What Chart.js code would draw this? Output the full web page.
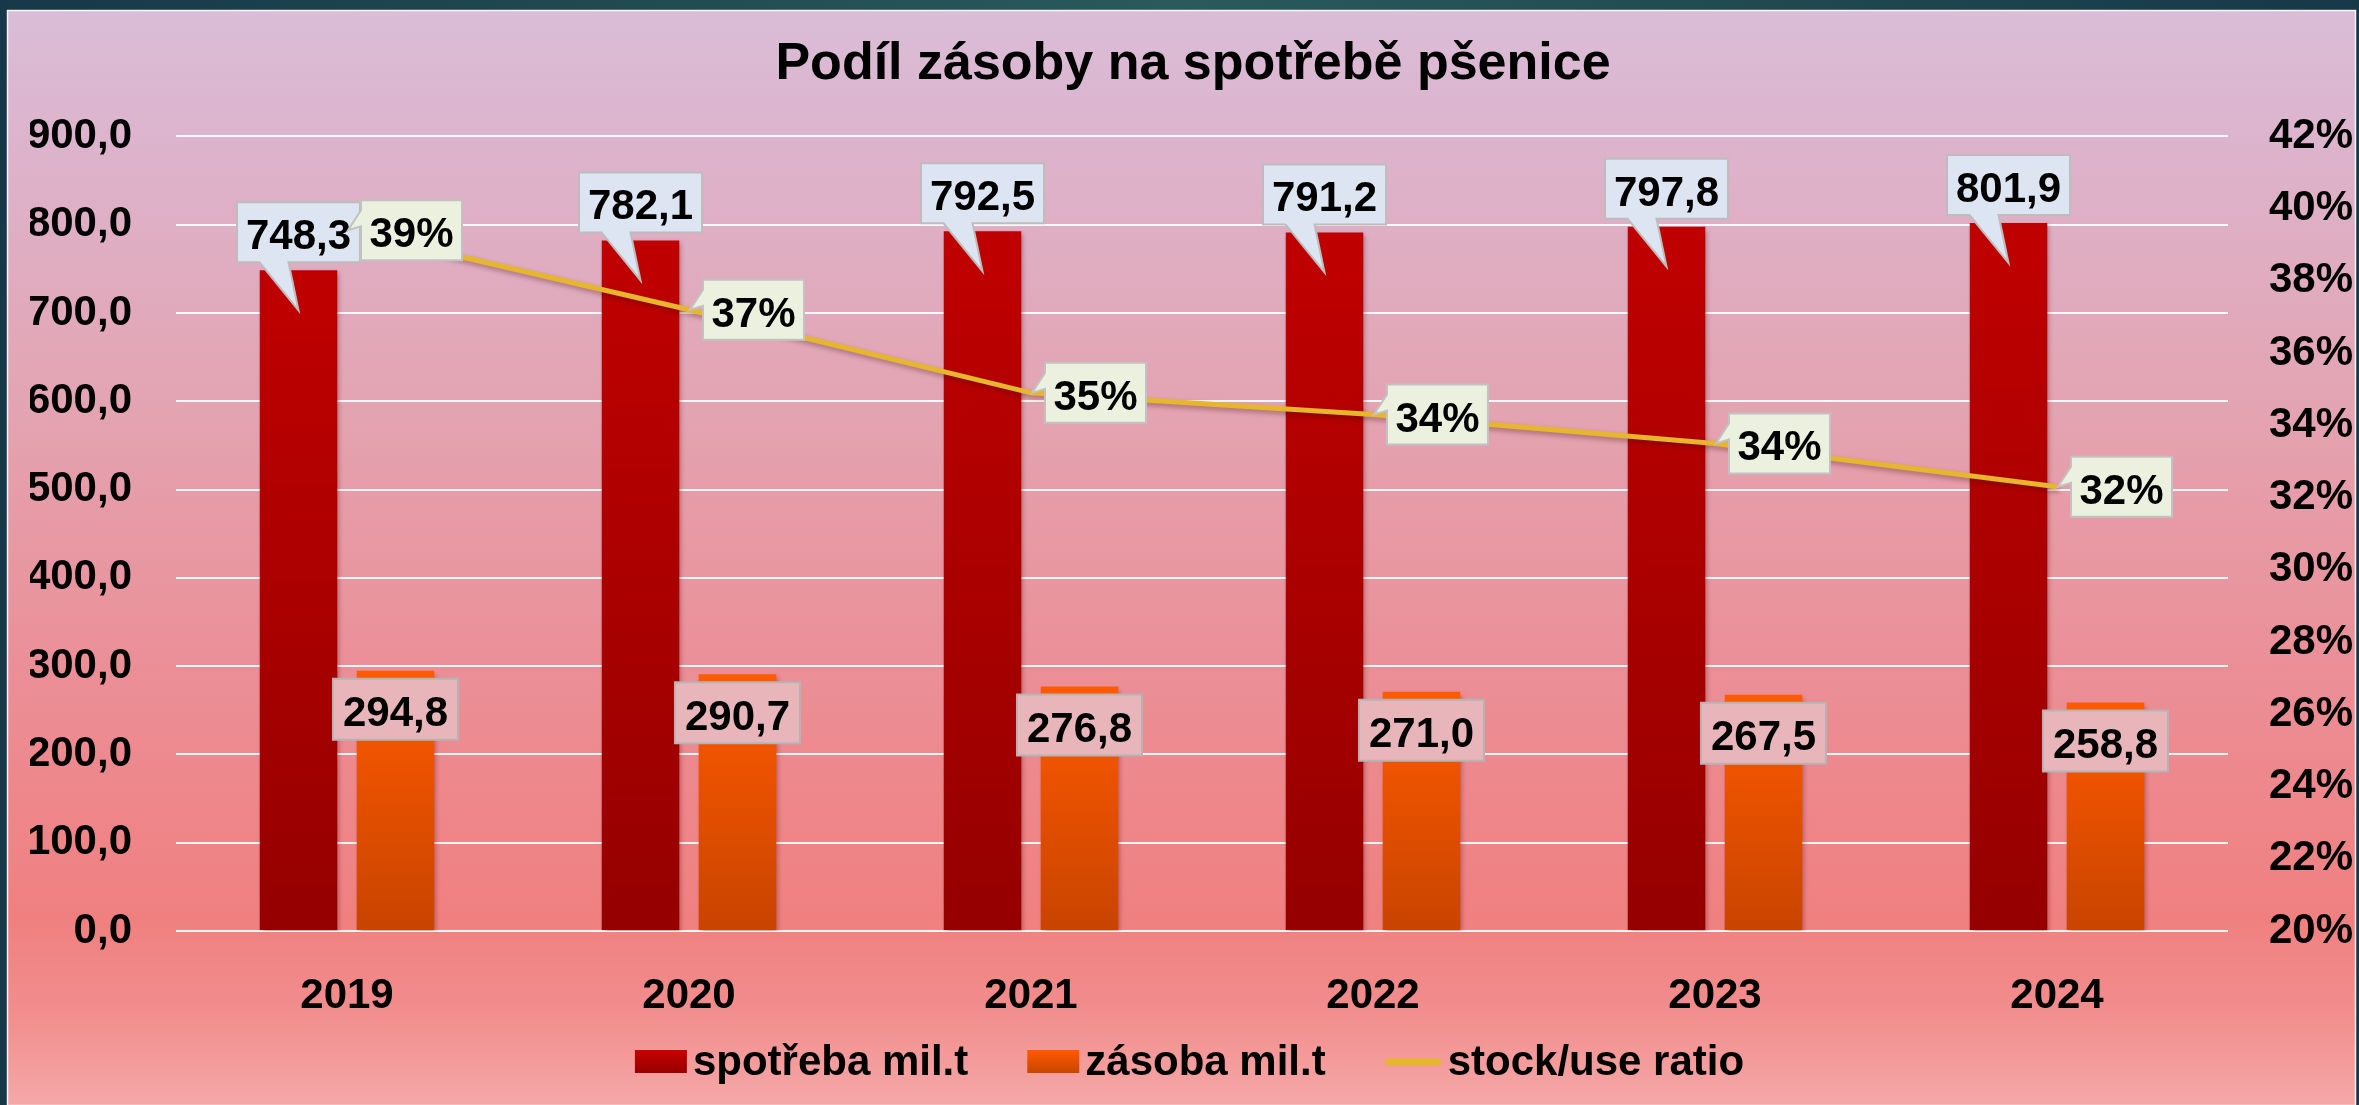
<!DOCTYPE html>
<html>
<head>
<meta charset="utf-8">
<script src="https://cdn.jsdelivr.net/npm/chart.js@4.4.1/dist/chart.umd.min.js"></script>
<style>
  html, body { margin: 0; padding: 0; background: #173a4a; }
  #wrap { width: 2359px; height: 1105px; position: relative; }
</style>
</head>
<body>
<div id="wrap"><canvas id="chart"></canvas></div>
<script>
const years = ['2019', '2020', '2021', '2022', '2023', '2024'];
const consumption = [748.3, 782.1, 792.5, 791.2, 797.8, 801.9];   // spotřeba mil.t
const stocks = [294.8, 290.7, 276.8, 271.0, 267.5, 258.8];        // zásoba mil.t
const stockUseRatio = [39.4, 37.2, 34.9, 34.3, 33.5, 32.3];        // %

const leftTicks = { min: 0, max: 900, step: 100 };
const rightTicks = { min: 20, max: 42, step: 2 };

const FONT = '"Liberation Sans", Arial, sans-serif';
const fmtNum = v => v.toFixed(1).replace('.', ',');
const fmtPct = v => Math.round(v) + '%';

function barFill(top, bottom) {
    return c => {
        const chart = c.chart;
        if (!chart.chartArea || c.type !== 'data') return top;
        const y = chart.scales.y;
        const g = chart.ctx.createLinearGradient(0, y.getPixelForValue(c.raw), 0, y.getPixelForValue(0));
        g.addColorStop(0, top);
        g.addColorStop(1, bottom);
        return g;
    };
}

const framePlugin = {
    id: 'frame',
    beforeDraw(chart) {
        const { ctx, width, height } = chart;
        ctx.save();
        const dark = ctx.createLinearGradient(0, 0, width, 0);
        dark.addColorStop(0, '#163848');
        dark.addColorStop(0.5, '#2a5a5c');
        dark.addColorStop(1, '#163848');
        ctx.fillStyle = dark;
        ctx.fillRect(0, 0, width, height);

        const bg = ctx.createLinearGradient(0, 10, 0, height);
        bg.addColorStop(0, '#dabdd7');
        bg.addColorStop(0.1, '#dcb5cf');
        bg.addColorStop(0.36, '#e3a4b2');
        bg.addColorStop(0.6, '#eb8f97');
        bg.addColorStop(0.83, '#f08080');
        bg.addColorStop(0.92, '#f28e8e');
        bg.addColorStop(1, '#f5a8a8');
        ctx.fillStyle = bg;
        ctx.fillRect(7, 10, width - 10, height - 10);
        ctx.strokeStyle = 'rgba(255,255,255,0.85)';
        ctx.lineWidth = 1.5;
        ctx.strokeRect(7.5, 10.5, width - 11, height - 10);
        ctx.restore();
    }
};

const shadowPlugin = {
    id: 'shadow',
    beforeDatasetDraw(chart, args) {
        const ctx = chart.ctx;
        ctx.save();
        ctx.shadowColor = 'rgba(60,0,0,0.35)';
        ctx.shadowBlur = 5;
        ctx.shadowOffsetX = 2;
        ctx.shadowOffsetY = 3;
    },
    afterDatasetDraw(chart) {
        chart.ctx.restore();
    }
};

function drawCallout(ctx, pathFn, fill, stroke) {
    ctx.beginPath();
    pathFn();
    ctx.closePath();
    ctx.fillStyle = fill;
    ctx.fill();
    ctx.strokeStyle = stroke;
    ctx.lineWidth = 2;
    ctx.stroke();
}

const labelPlugin = {
    id: 'callouts',
    afterDatasetsDraw(chart) {
        const ctx = chart.ctx;
        ctx.save();
        ctx.font = 'bold 42px ' + FONT;
        ctx.textAlign = 'center';
        ctx.textBaseline = 'alphabetic';

        // spotřeba: box above the bar with a pointer into the bar
        chart.getDatasetMeta(0).data.forEach((bar, i) => {
            const w = 123, h = 60;
            const L = bar.x - w / 2, R = bar.x + w / 2, B = bar.y - 8, T = B - h;
            drawCallout(ctx, () => {
                ctx.moveTo(L, T); ctx.lineTo(R, T); ctx.lineTo(R, B);
                ctx.lineTo(bar.x - 10, B); ctx.lineTo(bar.x, bar.y + 40);
                ctx.lineTo(bar.x - 39, B); ctx.lineTo(L, B);
            }, '#dce5f1', '#bdbdbd');
            ctx.fillStyle = '#000';
            ctx.fillText(fmtNum(consumption[i]), bar.x, T + h / 2 + 17);
        });

        // zásoba: box just below the bar top
        chart.getDatasetMeta(1).data.forEach((bar, i) => {
            const w = 125, h = 61;
            const L = bar.x - w / 2, T = bar.y + 8;
            drawCallout(ctx, () => {
                ctx.rect(L, T, w, h);
            }, '#e8b6ba', '#b4b4b4');
            ctx.fillStyle = '#000';
            ctx.fillText(fmtNum(stocks[i]), bar.x, T + h / 2 + 17);
        });

        // stock/use ratio: box right of the point with a pointer to it
        chart.getDatasetMeta(2).data.forEach((pt, i) => {
            const w = 101, h = 60;
            const L = pt.x + 14, R = L + w, T = pt.y - h / 2, B = pt.y + h / 2;
            drawCallout(ctx, () => {
                ctx.moveTo(L, T); ctx.lineTo(R, T); ctx.lineTo(R, B); ctx.lineTo(L, B);
                ctx.lineTo(L, pt.y - 4); ctx.lineTo(pt.x + 1, pt.y); ctx.lineTo(L, pt.y - 20);
            }, '#ebf1de', '#c2c2c2');
            ctx.fillStyle = '#000';
            ctx.fillText(fmtPct(stockUseRatio[i]), L + w / 2, pt.y + 17);
        });
        ctx.restore();
    }
};

const legendPlugin = {
    id: 'bottomLegend',
    afterDraw(chart) {
        const ctx = chart.ctx;
        const ds = chart.data.datasets;
        const items = [
            { text: ds[0].label, kind: 'box', top: '#c80000', bottom: '#960000' },
            { text: ds[1].label, kind: 'box', top: '#ff5a00', bottom: '#c84600' },
            { text: ds[2].label, kind: 'line', color: ds[2].borderColor }
        ];
        ctx.save();
        ctx.font = 'bold 42px ' + FONT;
        ctx.textBaseline = 'alphabetic';
        ctx.textAlign = 'left';
        const swatchW = it => it.kind === 'box' ? 52 : 57;
        const gapText = 6, gapItem = 59;
        let total = 0;
        items.forEach((it, k) => {
            it.w = ctx.measureText(it.text).width;
            total += swatchW(it) + gapText + it.w + (k ? gapItem : 0);
        });
        let x = chart.width / 2 + 10 - total / 2;
        const cy = 1062;
        items.forEach(it => {
            if (it.kind === 'box') {
                const g = ctx.createLinearGradient(0, cy - 12, 0, cy + 11);
                g.addColorStop(0, it.top);
                g.addColorStop(1, it.bottom);
                ctx.fillStyle = g;
                ctx.fillRect(x, cy - 12, 52, 23);
            } else {
                ctx.strokeStyle = it.color;
                ctx.lineWidth = 7;
                ctx.lineCap = 'round';
                ctx.beginPath();
                ctx.moveTo(x + 4, cy);
                ctx.lineTo(x + swatchW(it) - 4, cy);
                ctx.stroke();
            }
            x += swatchW(it) + gapText;
            ctx.fillStyle = '#000';
            ctx.fillText(it.text, x, cy + 13);
            x += it.w + gapItem;
        });
        ctx.restore();
    }
};

new Chart(document.getElementById('chart'), {
    data: {
        labels: years,
        datasets: [
            {
                type: 'bar',
                label: 'spotřeba mil.t',
                data: consumption,
                backgroundColor: barFill('#c00000', '#950000'),
                barPercentage: 0.8,
                categoryPercentage: 0.567,
                yAxisID: 'y',
                order: 1
            },
            {
                type: 'bar',
                label: 'zásoba mil.t',
                data: stocks,
                backgroundColor: barFill('#ff5a00', '#c84400'),
                barPercentage: 0.8,
                categoryPercentage: 0.567,
                yAxisID: 'y',
                order: 1
            },
            {
                type: 'line',
                label: 'stock/use ratio',
                data: stockUseRatio,
                borderColor: '#e6b62c',
                borderWidth: 5,
                pointRadius: 0,
                tension: 0,
                fill: false,
                yAxisID: 'y1',
                order: 0
            }
        ]
    },
    options: {
        responsive: true,
        maintainAspectRatio: false,
        animation: false,
        layout: { padding: { left: 30, right: 3, top: 10, bottom: 0 } },
        scales: {
            x: {
                grid: { display: false },
                border: { display: false },
                ticks: { color: '#000', font: { family: FONT, size: 42, weight: 'bold' }, padding: 32 },
                afterFit(scale) { scale.height = 174; }
            },
            y: {
                position: 'left',
                min: leftTicks.min,
                max: leftTicks.max,
                grid: { color: 'rgba(255,255,255,0.92)', lineWidth: 2, drawTicks: false },
                border: { display: false },
                ticks: {
                    stepSize: leftTicks.step,
                    color: '#000',
                    padding: 44,
                    font: { family: FONT, size: 42, weight: 'bold' },
                    callback: v => fmtNum(v)
                },
                afterFit(scale) { scale.width = 146; }
            },
            y1: {
                position: 'right',
                min: rightTicks.min,
                max: rightTicks.max,
                grid: { display: false, drawTicks: false },
                border: { display: false },
                ticks: {
                    stepSize: rightTicks.step,
                    color: '#000',
                    padding: 41,
                    font: { family: FONT, size: 42, weight: 'bold' },
                    callback: v => v + '%'
                },
                afterFit(scale) { scale.width = 128; }
            }
        },
        plugins: {
            legend: { display: false },
            tooltip: { enabled: false },
            title: {
                display: true,
                text: 'Podíl zásoby na spotřebě pšenice',
                color: '#000',
                font: { family: FONT, size: 52, weight: 'bold' },
                padding: { top: 23, bottom: 41 }
            }
        }
    },
    plugins: [framePlugin, shadowPlugin, labelPlugin, legendPlugin]
});
</script>
</body>
</html>
